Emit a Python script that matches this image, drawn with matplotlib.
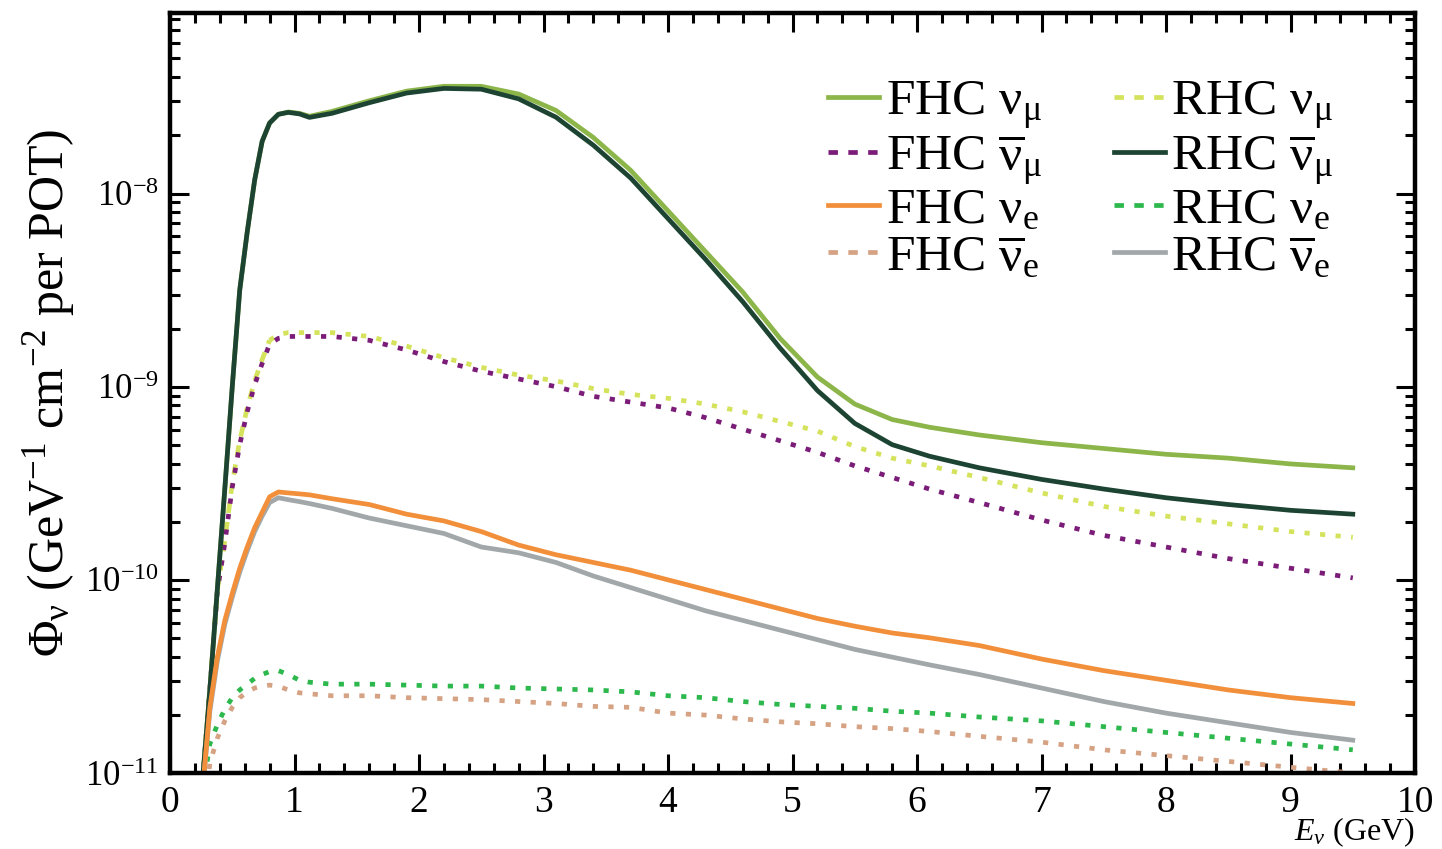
import numpy as np
import matplotlib
matplotlib.use('Agg')
import matplotlib.pyplot as plt
from matplotlib.ticker import MultipleLocator, LogLocator, FixedLocator
from matplotlib.lines import Line2D

plt.rcParams['font.family'] = ['Liberation Serif', 'DejaVu Serif']
plt.rcParams['mathtext.fontset'] = 'custom'
plt.rcParams['mathtext.rm'] = 'Liberation Serif'
plt.rcParams['mathtext.it'] = 'Liberation Serif:italic'
plt.rcParams['mathtext.bf'] = 'Liberation Serif:bold'

# neutrino energy grid (GeV)
energy = [0.26, 0.32, 0.38, 0.44, 0.50, 0.56, 0.62, 0.68, 0.74, 0.80, 0.87, 0.95, 1.04, 1.12,
          1.3, 1.6, 1.9, 2.2, 2.5, 2.8, 3.1, 3.4, 3.7, 4.0, 4.3, 4.6, 4.9, 5.2, 5.5, 5.8, 6.1,
          6.5, 7.0, 7.5, 8.0, 8.5, 9.0, 9.5]

# log10 of flux (GeV^-1 cm^-2 per POT)
fhc_numu_log = [-11.05, -10.57, -10.05, -9.53, -9.0, -8.5, -8.2, -7.93, -7.73, -7.635, -7.59, -7.578,
                -7.585, -7.60, -7.575, -7.52, -7.47, -7.445, -7.445, -7.485, -7.57, -7.71, -7.88,
                -8.09, -8.30, -8.51, -8.75, -8.95, -9.09, -9.17, -9.21, -9.25, -9.29, -9.32, -9.35,
                -9.37, -9.40, -9.42]
rhc_numubar_log = [-11.05, -10.57, -10.05, -9.53, -9.0, -8.5, -8.2, -7.93, -7.73, -7.635, -7.59, -7.58,
                   -7.588, -7.606, -7.585, -7.53, -7.48, -7.456, -7.46, -7.51, -7.605, -7.75, -7.92,
                   -8.13, -8.34, -8.56, -8.80, -9.02, -9.19, -9.30, -9.36, -9.42, -9.48, -9.53, -9.575,
                   -9.61, -9.64, -9.66]
rhc_numu_log = [-11.05, -10.57, -10.05, -9.80, -9.50, -9.28, -9.11, -8.97, -8.86, -8.76, -8.73, -8.72,
                -8.72, -8.72, -8.72, -8.74, -8.79, -8.85, -8.90, -8.94, -8.97, -9.01, -9.04, -9.06,
                -9.09, -9.13, -9.18, -9.23, -9.31, -9.37, -9.41, -9.47, -9.55, -9.62, -9.67, -9.71,
                -9.75, -9.78]
fhc_numubar_log = [-11.05, -10.57, -10.06, -9.81, -9.52, -9.30, -9.13, -8.99, -8.88, -8.78, -8.75, -8.74,
                   -8.74, -8.74, -8.74, -8.76, -8.81, -8.87, -8.92, -8.96, -9.00, -9.05, -9.08, -9.11,
                   -9.16, -9.22, -9.28, -9.34, -9.41, -9.47, -9.53, -9.60, -9.69, -9.77, -9.83, -9.89,
                   -9.94, -9.99]
fhc_nue_log = [-11.1, -10.66, -10.40, -10.21, -10.07, -9.94, -9.83, -9.73, -9.65, -9.57, -9.545, -9.55,
               -9.555, -9.56, -9.58, -9.61, -9.66, -9.695, -9.75, -9.82, -9.87, -9.91, -9.95, -10.0,
               -10.05, -10.10, -10.15, -10.20, -10.24, -10.275, -10.30, -10.34, -10.41, -10.47, -10.52,
               -10.57, -10.61, -10.64]
rhc_nuebar_log = [-11.1, -10.68, -10.42, -10.23, -10.09, -9.96, -9.85, -9.75, -9.67, -9.60, -9.575, -9.585,
                  -9.595, -9.605, -9.63, -9.68, -9.72, -9.76, -9.83, -9.86, -9.91, -9.98, -10.04, -10.10,
                  -10.16, -10.21, -10.26, -10.31, -10.36, -10.40, -10.44, -10.49, -10.56, -10.63, -10.69,
                  -10.74, -10.79, -10.83]
rhc_nue_log = [-11.1, -10.85, -10.75, -10.67, -10.61, -10.57, -10.54, -10.51, -10.49, -10.475, -10.47,
               -10.49, -10.52, -10.53, -10.54, -10.54, -10.545, -10.55, -10.55, -10.56, -10.565, -10.57,
               -10.58, -10.60, -10.61, -10.63, -10.645, -10.655, -10.665, -10.68, -10.69, -10.71, -10.73,
               -10.76, -10.79, -10.82, -10.85, -10.88]
fhc_nuebar_log = [-11.3, -10.95, -10.82, -10.73, -10.66, -10.61, -10.58, -10.56, -10.55, -10.545, -10.55,
                  -10.57, -10.585, -10.59, -10.60, -10.60, -10.61, -10.615, -10.62, -10.63, -10.64, -10.655,
                  -10.66, -10.69, -10.70, -10.72, -10.735, -10.745, -10.76, -10.77, -10.785, -10.81, -10.84,
                  -10.88, -10.91, -10.94, -10.97, -11.0]

labels = [r'FHC $\mathrm{\nu}_{\mathrm{\mu}}$', r'FHC $\overline{\mathrm{\nu}}_{\mathrm{\mu}}$',
          r'FHC $\mathrm{\nu}_{\mathrm{e}}$', r'FHC $\overline{\mathrm{\nu}}_{\mathrm{e}}$',
          r'RHC $\mathrm{\nu}_{\mathrm{\mu}}$', r'RHC $\overline{\mathrm{\nu}}_{\mathrm{\mu}}$',
          r'RHC $\mathrm{\nu}_{\mathrm{e}}$', r'RHC $\overline{\mathrm{\nu}}_{\mathrm{e}}$']
colors = ['#8cb54a', '#7a1c78', '#f28f3b', '#d6a284',
          '#d5e35c', '#1d4432', '#2cb84c', '#a2a8aa']
dotted = [False, True, False, True, True, False, True, False]
y_ticks = [1e-11, 1e-10, 1e-9, 1e-8]

fig = plt.figure(figsize=(14.42, 8.49), dpi=100)
ax = fig.add_axes([0.1179, 0.0895, 0.8634, 0.8952])

E = np.array(energy)
dot = (0, (1.1, 2.2))
dash = (0, (2.2, 1.9))
lw = 3.4
knee = 10  # rising part of RHC numu looks dashed

# dotted behind, solid on top
ax.plot(E[:knee], 10 ** np.array(rhc_numu_log[:knee]), color=colors[4], lw=lw, ls=dash)
ax.plot(E[knee - 1:], 10 ** np.array(rhc_numu_log[knee - 1:]), color=colors[4], lw=lw, ls=dot)
ax.plot(E, 10 ** np.array(fhc_numubar_log), color=colors[1], lw=lw, ls=dot)
ax.plot(E, 10 ** np.array(rhc_nue_log), color=colors[6], lw=lw, ls=dot)
ax.plot(E, 10 ** np.array(fhc_nuebar_log), color=colors[3], lw=lw, ls=dot)
ax.plot(E, 10 ** np.array(fhc_numu_log), color=colors[0], lw=lw)
ax.plot(E, 10 ** np.array(rhc_numubar_log), color=colors[5], lw=lw)
ax.plot(E, 10 ** np.array(rhc_nuebar_log), color=colors[7], lw=lw)
ax.plot(E, 10 ** np.array(fhc_nue_log), color=colors[2], lw=lw)

ax.set_yscale('log')
ax.set_xlim(0, 10)
ax.set_ylim(1e-11, 8.6e-8)

ax.xaxis.set_major_locator(MultipleLocator(1))
ax.xaxis.set_minor_locator(MultipleLocator(0.2))
ax.yaxis.set_major_locator(FixedLocator(y_ticks))
ax.yaxis.set_minor_locator(LogLocator(base=10, subs=np.arange(2, 10), numticks=10))

ax.tick_params(which='both', direction='in', top=True, right=True, width=2.2)
ax.tick_params(which='major', length=14)
ax.tick_params(which='minor', length=7)
ax.tick_params(axis='x', labelsize=27, pad=9)
ax.tick_params(axis='y', labelsize=25, pad=8)
for s in ax.spines.values():
    s.set_linewidth(3.2)

ax.set_xlabel(r'$E_{\nu}$ (GeV)', fontsize=23, loc='right', labelpad=-3)
ax.set_ylabel(r'$\Phi_{\mathrm{\nu}}$ (GeV$^{-1}$ cm$^{-2}$ per POT)', fontsize=36, labelpad=6)

handles = [Line2D([], [], color=c, lw=lw, ls=(0, (2.0, 2.2)) if d else '-')
           for c, d in zip(colors, dotted)]
ax.legend(handles, labels, ncol=2, loc='upper left', bbox_to_anchor=(0.5285, 0.913),
          frameon=False, fontsize=37, handlelength=1.0, handletextpad=0.12,
          columnspacing=1.4, labelspacing=0.0, borderpad=0, borderaxespad=0)

fig.savefig('out.png', dpi=100)
